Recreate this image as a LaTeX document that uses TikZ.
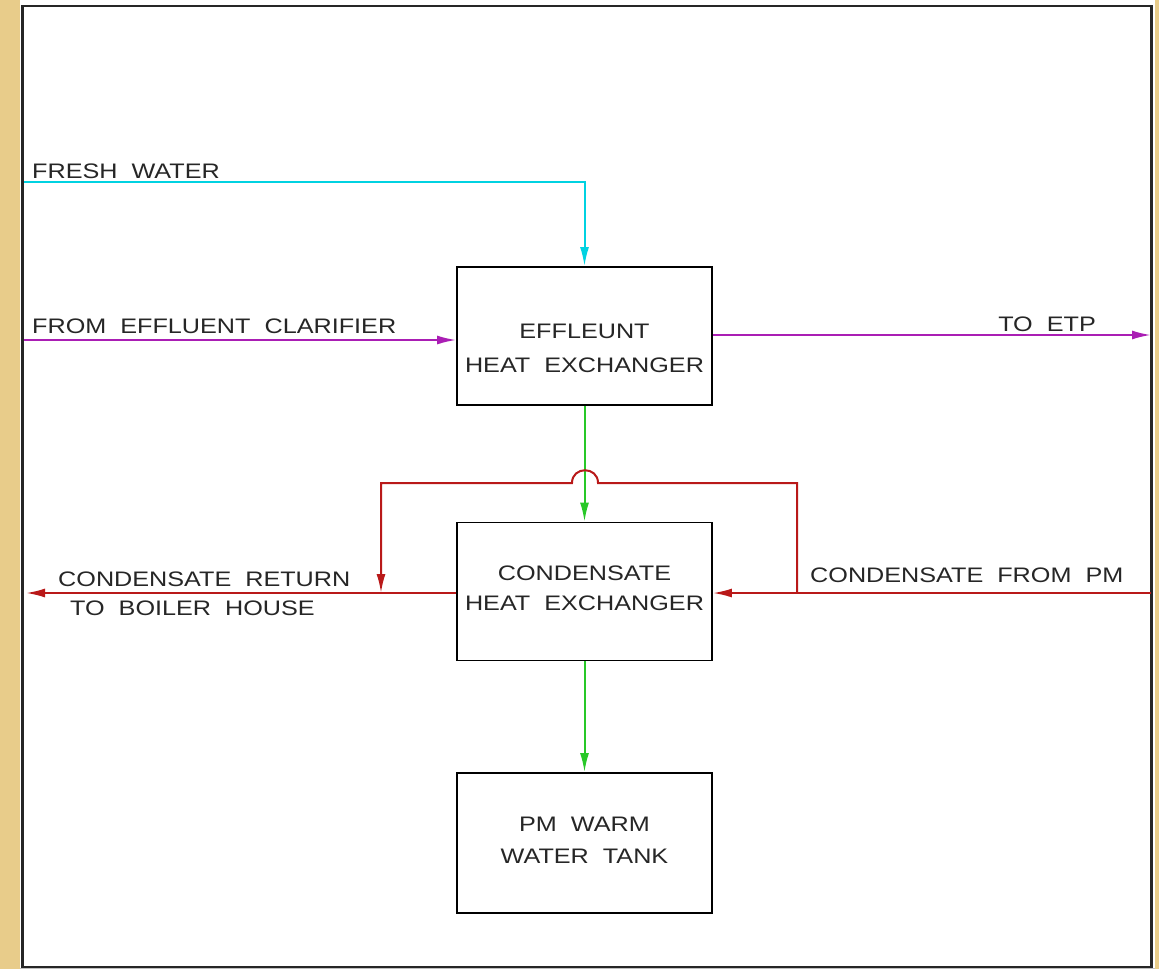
\documentclass[tikz,border=0pt]{standalone}
\usepackage{fontspec}
\newfontfamily\cad[FakeStretch=1.2,WordSpace=2]{Liberation Sans}
\usetikzlibrary{arrows.meta}
\definecolor{tan}{RGB}{232,204,138}
\definecolor{cyanl}{RGB}{0,210,225}
\definecolor{purp}{RGB}{170,30,180}
\definecolor{grn}{RGB}{40,200,40}
\definecolor{redl}{RGB}{185,25,25}
\tikzset{
  box/.style={draw=black,line width=1.8pt,minimum width=255pt,minimum height=138pt,inner sep=0pt},
  lbl/.style={font=\cad\fontsize{21}{34}\selectfont,inner sep=0pt,text=black!85},
  flow/.style={line width=2pt,-{Latex[length=19pt,width=9pt]}},
  plain/.style={line width=2pt}
}
\begin{document}
\begin{tikzpicture}[x=1pt,y=-1pt]
\useasboundingbox (0,0) rectangle (1159,969);
\fill[tan] (0,0) rectangle (1159,969);
\fill[white] (20,0) rectangle (1155,969);
\draw[black!85,line width=2.6pt] (22.5,6) rectangle (1151.5,967);
\draw[black!25,line width=1pt] (20,968.5) -- (1155,968.5);

% boxes
\node[box] (ehx) at (584.5,336) {};
\node[box] (chx) at (584.5,591.5) {};
\node[box,minimum height=140pt] (tank) at (584.5,843) {};

\node[lbl,anchor=base] (t1) at (584.5,338) {EFFLEUNT};
\node[lbl,anchor=base] (t2) at (584.5,372) {HEAT EXCHANGER};
\node[lbl,anchor=base] (t3) at (584.5,580) {CONDENSATE};
\node[lbl,anchor=base] (t4) at (584.5,610) {HEAT EXCHANGER};
\node[lbl,anchor=base] (t5) at (584.5,831) {PM WARM};
\node[lbl,anchor=base] (t6) at (584.5,863) {WATER TANK};

% labels
\node[lbl,anchor=base west] (lfw) at (32,178) {FRESH WATER};
\node[lbl,anchor=base west] (lcl) at (32,333) {FROM EFFLUENT CLARIFIER};
\node[lbl,anchor=base east] (letp) at (1096,331) {TO ETP};
\node[lbl,anchor=base west] (lcr) at (58,586) {CONDENSATE RETURN};
\node[lbl,anchor=base west] (lbh) at (70,615) {TO BOILER HOUSE};
\node[lbl,anchor=base west] (lpm) at (810,582) {CONDENSATE FROM PM};

% coordinates
\coordinate (fwin) at (24,182);
\coordinate (clin) at (24,340);
\coordinate (etp) at (1151,335);
\coordinate (pmin) at (1151,593);
\coordinate (br) at (797,593);
\coordinate (hopR) at (598,483);
\coordinate (hopL) at (572,483);
\coordinate (jn) at (381,593);
\coordinate (ret) at (26,593);

% flows
\draw[flow,cyanl] (fwin) -| (ehx.north);
\draw[flow,purp] (clin) -- (clin -| ehx.west);
\draw[flow,purp] (ehx.east |- etp) -- (etp);
\draw[flow,grn] (ehx.south) -- (chx.north);
\draw[flow,grn] (chx.south) -- (tank.north);
\draw[flow,redl] (pmin) -- (pmin -| chx.east);
\draw[flow,redl] (br) |- (hopR) .. controls (598,466) and (572,466) .. (hopL) -| (jn);
\draw[flow,redl] (chx.west |- ret) -- (ret);
\end{tikzpicture}
\end{document}
